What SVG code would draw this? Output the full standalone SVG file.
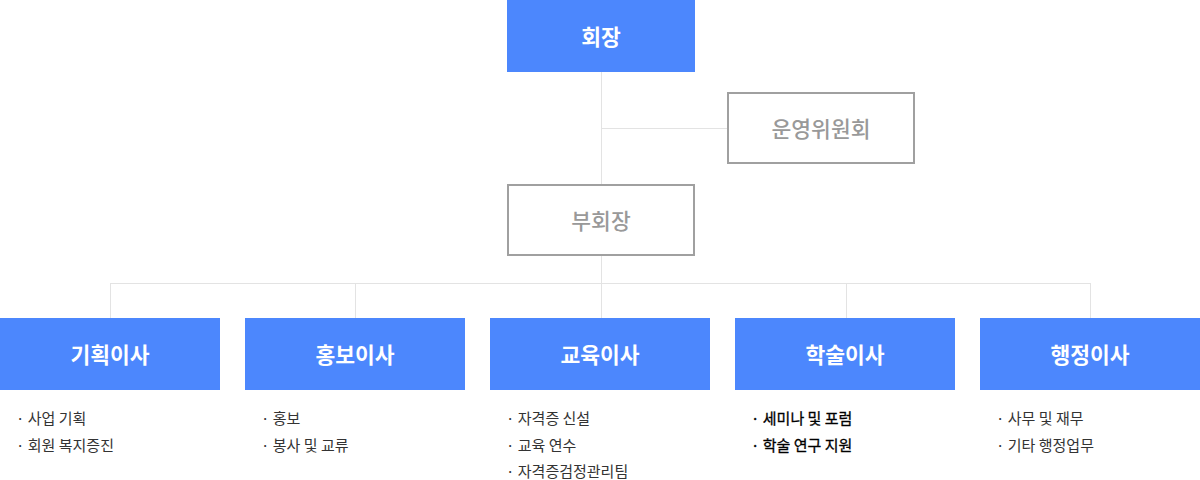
<svg xmlns="http://www.w3.org/2000/svg" width="1200" height="480" viewBox="0 0 1200 480">
<style>
.blue{fill:#4c87fd}
.outline{fill:#fff;stroke:#a0a0a0;stroke-width:2}
.t{font-family:"Noto Sans CJK KR","Noto Sans",sans-serif;text-anchor:middle;dominant-baseline:central}
.tw{fill:#fff;font-size:21.5px;font-weight:700}
.tg{fill:#999;font-size:21.5px;font-weight:500}
.li{font-family:"Noto Sans CJK KR","Noto Sans",sans-serif;font-size:15px;fill:#333;dominant-baseline:central}
.lb{fill:#000;stroke:#000;stroke-width:0.3}
.c{stroke:#e3e3e3;stroke-width:1;fill:none}
</style>
<rect width="1200" height="480" fill="#fff"/>
<g id="connectors">
<path class="c" d="M601.5 72V184M601.5 128.5H728M601.5 255V283M110.5 283.5H1090.5M110.5 283V318M355.5 283V318M601.5 283V318M846.5 283V318M1090.5 283V318"/>
</g>
<g id="president"><rect class="blue" x="507" y="0" width="188" height="72"/><text class="t tw" x="601" y="35">회장</text></g>
<g id="committee"><rect class="outline" x="728" y="93" width="186" height="70"/><text class="t tg" x="821" y="127">운영위원회</text></g>
<g id="vice"><rect class="outline" x="508" y="185" width="186" height="70"/><text class="t tg" x="601" y="219">부회장</text></g>
<g id="planning"><rect class="blue" x="0" y="318" width="220" height="72"/><text class="t tw" x="110" y="353">기획이사</text>
<text class="li" x="16" y="417">· 사업 기획</text><text class="li" x="16" y="444">· 회원 복지증진</text></g>
<g id="pr"><rect class="blue" x="245" y="318" width="220" height="72"/><text class="t tw" x="355" y="353">홍보이사</text>
<text class="li" x="261" y="417">· 홍보</text><text class="li" x="261" y="444">· 봉사 및 교류</text></g>
<g id="edu"><rect class="blue" x="490" y="318" width="220" height="72"/><text class="t tw" x="600" y="353">교육이사</text>
<text class="li" x="506" y="417">· 자격증 신설</text><text class="li" x="506" y="444">· 교육 연수</text><text class="li" x="506" y="470">· 자격증검정관리팀</text></g>
<g id="academic"><rect class="blue" x="735" y="318" width="220" height="72"/><text class="t tw" x="845" y="353">학술이사</text>
<text class="li lb" x="751" y="417">· 세미나 및 포럼</text><text class="li lb" x="751" y="444">· 학술 연구 지원</text></g>
<g id="admin"><rect class="blue" x="980" y="318" width="220" height="72"/><text class="t tw" x="1090" y="353">행정이사</text>
<text class="li" x="996" y="417">· 사무 및 재무</text><text class="li" x="996" y="444">· 기타 행정업무</text></g>
</svg>
